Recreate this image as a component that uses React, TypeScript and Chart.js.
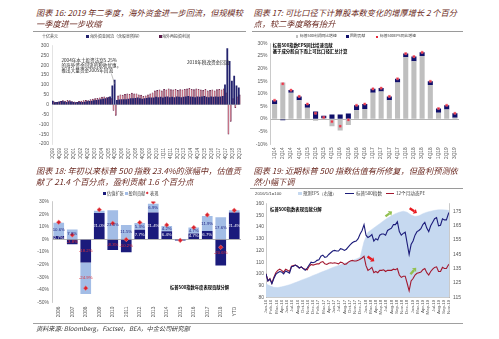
import React, { useEffect, useRef } from "react";
import { Chart, registerables } from "chart.js";
Chart.register(...registerables);

// ---------------- Chart 16 (top-left) ----------------
const years16 = ["99", "00", "01", "02", "03", "04", "05", "06", "07", "08", "09", "10", "11", "12", "13", "14", "15", "16", "17", "18", "19"];
const quarters16: string[] = [];
years16.forEach((y) => ["1", "2", "3", "4"].forEach((q) => quarters16.push(q + "Q" + y)));
quarters16.splice(82);
const repat16 = [
  18, 10, 12, 14, 16, 14, 12, 15, 14, 12, 10, 12, 12, 11, 13, 15, 16, 18, 20, 22, 24, 26, 28, 30,
  35, 40, 95, 125, 22, 24, 26, 25, 25, 28, 30, 30, 32, 35, 30, 28, 30, 32, 35, 35, 35, 38, 36, 38,
  35, 38, 40, 36, 38, 36, 40, 38, 36, 38, 40, 42, 40, 38, 36, 40, 38, 40, 42, 38, 36, 40, 38, 40,
  38, 40, 42, 100, 285, 220, 120, 145, 95, 85,
];
const reinv16 = [
  15, 12, 14, 16, 20, 18, 22, 20, 15, 14, 12, 16, 18, 20, 22, 20, 25, 28, 30, 32, 35, 38, 40, 36,
  38, 30, -30, -55, 45, 50, 48, 52, 55, 52, 58, 55, 55, 50, 48, 42, 45, 50, 55, 60, 70, 72, 75, 70,
  78, 75, 80, 76, 75, 78, 72, 76, 75, 78, 80, 82, 78, 76, 80, 78, 75, 72, 78, 70, 72, 75, 70, 76,
  78, 75, 80, 60, -150, -85, 30, -15, 40, 50,
];
const labelEvery16 = 3;
const leader16 = { i0: 25.3, v0: 158, i1: 26.8, v1: 104 };

// ---------------- Chart 17 (top-right) ----------------
const cats17 = ["1Q14", "2Q14", "3Q14", "4Q14", "1Q15", "2Q15", "3Q15", "4Q15", "1Q16", "2Q16", "3Q16", "4Q16", "1Q17", "2Q17", "3Q17", "4Q17", "1Q18", "2Q18", "3Q18", "4Q18", "1Q19", "2Q19", "3Q19"];
const earn17 = [6, 14.5, 10.5, 7.5, 4.5, -0.7, 0.3, -2.8, -4.5, -2.3, 3.5, 4, 10.5, 11, 7.5, 14.5, 24.5, 23, 25, 13.5, 2.5, 3.8, 0.5];
const buyback17 = [1.5, -0.5, 1, 1.5, 1.5, 3, 1, 1.8, 1.8, 2.2, 2, 2, 1.5, 1.3, 1.5, 1.5, 1.5, 1.8, 1.5, 1.5, 1.7, 1.7, 1.8];
const eps17 = [7.5, 14, 11.5, 9, 6, 2.3, 0.7, -1, -2.8, -0.3, 5.5, 6, 12, 12.3, 9, 16, 26, 24.8, 26.5, 15, 4.2, 5.5, 2.3];

// ---------------- Chart 18 (bottom-left) ----------------
const cats18 = ["2006", "2007", "2008", "2009", "2010", "2011", "2012", "2013", "2014", "2015", "2016", "2017", "2018", "YTD"];
const val18 = [2.7, -3.8, -18.2, 21.0, -8.3, -10.2, 7.7, 21.4, 6.4, -0.8, 4.7, 6.7, -20.6, 21.4];
const earnC18 = [10.6, 7.8, -24.9, 1.6, 23.0, 11.5, 5.3, 6.9, 4.2, 0.1, 4.7, 11.9, 17.6, 1.6];
const perf18 = [13.6, 3.5, -38.5, 23.5, 12.8, 0.0, 13.4, 29.6, 11.4, -0.7, 9.5, 19.4, -6.2, 23.0];

// ---------------- Chart 19 (bottom-right) ----------------
const stepDays19 = 15; // S&P and PE sampled every 15 days from 2016-01-01
const spx19 = [
  100, 94, 95.5, 91.5, 96, 99.5, 101, 102, 101.5, 100,
  102.5, 101.5, 100.5, 106, 106.5, 107.5, 106.5, 105, 106, 104.5,
  103, 105, 107.5, 110, 109.5, 110, 111.5, 112, 115, 116,
  114, 114.5, 116.5, 118, 119.5, 120, 119.5, 119.5, 121.5, 121,
  120, 121, 123, 125, 126.5, 127.5, 128, 130, 134, 137,
  142, 133, 131, 132, 133.5, 128, 130, 129, 133, 134,
  134, 133, 137, 138, 139, 142, 142, 144.5, 136, 133,
  134.5, 135.5, 126, 116.5, 125, 128, 133, 136, 137, 138.5,
  142, 144, 139, 136, 141, 144, 147, 148, 141, 141.5,
  147, 146, 146, 151, 154,
];
const pe19 = [
  100, 94, 96, 92, 97, 101, 103, 104, 103, 101.5,
  104, 103, 102, 106.5, 107, 107.5, 106.5, 105, 106, 104.5,
  104, 103.5, 106.5, 108, 107.5, 108, 108.5, 108.5, 110, 110.5,
  108.5, 108, 109, 109.5, 109, 109.5, 109, 108.5, 110, 109.5,
  108, 108.5, 110, 111, 111.5, 111, 111, 111.5, 112.5, 113.5,
  115, 107, 103, 104, 105.5, 101, 102, 101, 103, 103,
  103.5, 102, 103, 103, 103, 104, 103.5, 104.5, 99, 97,
  98, 98, 92, 85.5, 94, 96, 99, 100.5, 101, 101.5,
  103.5, 104.5, 101, 99, 102, 104, 105.5, 106, 102, 102,
  105.5, 104.5, 104.5, 107.5, 109,
];
const epsStepDays19 = 30; // forward EPS sampled every 30 days
const eps19 = [
  124.4, 123, 122, 121.8, 122.3, 123, 123.8, 124.8, 125.8, 127,
  128, 129, 130.3, 131.3, 132.5, 133.5, 134.6, 135.8, 136.8, 137.8,
  138.8, 139.8, 140.8, 141.8, 143, 154, 160.5, 162.5, 164.5, 166.5,
  168.5, 170.5, 172, 173.5, 174.5, 175.2, 174.5, 172.5, 171.5, 172,
  173.5, 174.5, 175.2, 175.8, 176.2, 176.2, 176, 175.5,
];
const xLabels19 = [
  "Jan-16", "Feb-16", "Mar-16", "Apr-16", "Jun-16", "Jul-16", "Aug-16", "Oct-16", "Nov-16", "Dec-16",
  "Feb-17", "Mar-17", "Apr-17", "Jun-17", "Jul-17", "Aug-17", "Oct-17", "Nov-17", "Dec-17",
  "Jan-18", "Mar-18", "Apr-18", "May-18", "Jul-18", "Aug-18", "Sep-18", "Nov-18", "Dec-18",
  "Jan-19", "Mar-19", "Apr-19", "May-19", "Jul-19", "Aug-19", "Sep-19", "Nov-19",
];
const xLabelGapDays19 = 40;
const leftTicks19 = [80, 90, 100, 110, 120, 130, 140, 150, 160];
const rightTicks19 = [115, 125, 135, 145, 155, 165, 175];
const arrows19 = [
  { d0: 914, v0: 149, d1: 965, v1: 153.2, c: "#92c050" },
  { d0: 1099, v0: 155.9, d1: 1155, v1: 151.8, c: "#e8191f" },
  { d0: 777, v0: 114.8, d1: 829, v1: 110.7, c: "#e8191f" },
  { d0: 1105, v0: 99.7, d1: 1149, v1: 105.2, c: "#92c050" },
];

// ---------------- styling ----------------
const FONT = '"Liberation Sans", Arial, sans-serif';
const CJK = '"Noto Sans CJK SC", "Noto Sans", sans-serif';
const TICK = "#595959";
const TITLE = "#6b2a22";
const NAVY = "#1b1b7c";
const tickFont = (s: number) => ({ family: FONT, size: s, lineHeight: 1 });
const baseOpts = { animation: false, responsive: false, devicePixelRatio: 1, plugins: { legend: { display: false }, tooltip: { enabled: false } } };
const zeroGrid = { drawTicks: false, lineWidth: 0.8, color: (c: any) => (c.tick && c.tick.value === 0 ? "#a0a0a0" : "rgba(0,0,0,0)") };

const leaderPlugin16 = {
  id: "leader16",
  afterDatasetsDraw(chart: any) {
    const { ctx, scales } = chart;
    ctx.save();
    ctx.strokeStyle = "#7f7f7f";
    ctx.lineWidth = 0.5;
    ctx.beginPath();
    ctx.moveTo(scales.x.getPixelForValue(leader16.i0), scales.y.getPixelForValue(leader16.v0));
    ctx.lineTo(scales.x.getPixelForValue(leader16.i1), scales.y.getPixelForValue(leader16.v1));
    ctx.stroke();
    ctx.restore();
  },
};

const labelPlugin18 = {
  id: "labels18",
  afterDatasetsDraw(chart: any) {
    const ctx = chart.ctx;
    ctx.save();
    ctx.font = '4.3px "Liberation Sans"';
    ctx.textAlign = "center";
    ctx.textBaseline = "middle";
    [0, 1].forEach((di) => {
      const meta = chart.getDatasetMeta(di);
      meta.data.forEach((bar: any, i: number) => {
        const v = chart.data.datasets[di].data[i] as number;
        if (Math.abs(v) < 2.5) return;
        const p = bar.getProps(["x", "y", "base"], true);
        ctx.fillStyle = v < 0 ? "#e0303a" : di === 0 ? "#ffffff" : NAVY;
        ctx.fillText(v.toFixed(1) + "%", p.x, (p.y + p.base) / 2);
      });
    });
    ctx.restore();
  },
};

const arrowPlugin19 = {
  id: "arrows19",
  afterDatasetsDraw(chart: any) {
    const { ctx, scales } = chart;
    arrows19.forEach((a) => {
      const x0 = scales.x.getPixelForValue(a.d0), y0 = scales.y.getPixelForValue(a.v0);
      const x1 = scales.x.getPixelForValue(a.d1), y1 = scales.y.getPixelForValue(a.v1);
      const ang = Math.atan2(y1 - y0, x1 - x0);
      const head = 3.2, hw = 2.8;
      const bx = x1 - head * Math.cos(ang), by = y1 - head * Math.sin(ang);
      ctx.save();
      ctx.strokeStyle = a.c;
      ctx.fillStyle = a.c;
      ctx.lineWidth = 2.4;
      ctx.beginPath();
      ctx.moveTo(x0, y0);
      ctx.lineTo(bx, by);
      ctx.stroke();
      ctx.beginPath();
      ctx.moveTo(x1, y1);
      ctx.lineTo(bx + hw * Math.sin(ang), by - hw * Math.cos(ang));
      ctx.lineTo(bx - hw * Math.sin(ang), by + hw * Math.cos(ang));
      ctx.closePath();
      ctx.fill();
      ctx.restore();
    });
  },
};

const config16 = () => ({
  type: "bar",
  data: {
    labels: quarters16,
    datasets: [
      { label: "海外资金回流", data: repat16, backgroundColor: "#23236e", borderWidth: 0, categoryPercentage: 1, barPercentage: 1 },
      { label: "海外再投资利润", data: reinv16, backgroundColor: "#cf6f80", borderColor: "#4e1440", borderWidth: 0.5, categoryPercentage: 1, barPercentage: 1 },
    ],
  },
  options: {
    ...baseOpts,
    layout: { padding: { top: 4.3, right: 7, left: 0, bottom: 0 } },
    scales: {
      x: {
        grid: { display: false, drawTicks: false },
        border: { display: false },
        ticks: { autoSkip: false, minRotation: 90, maxRotation: 90, padding: 4, color: TICK, font: tickFont(4.6), callback: (_v: any, i: number) => (i % labelEvery16 === 0 ? quarters16[i] : "") },
        afterFit: (s: any) => { s.height = 21; },
      },
      y: {
        min: -200, max: 300,
        ticks: { stepSize: 50, padding: 3, color: TICK, font: tickFont(5) },
        grid: zeroGrid,
        border: { display: true, color: "#d0d0d0", width: 0.6 },
        afterFit: (s: any) => { s.width = 16; },
      },
    },
  },
  plugins: [leaderPlugin16],
});

const config17 = () => ({
  type: "bar",
  data: {
    labels: cats17,
    datasets: [
      { label: "标普500利润同比增速", data: earn17, backgroundColor: "#bfbfbf", stack: "s", categoryPercentage: 1, barPercentage: 0.62 },
      { label: "回购贡献", data: buyback17, backgroundColor: "#10106b", stack: "s", categoryPercentage: 1, barPercentage: 0.62 },
      { type: "line", label: "标普500EPS同比增速", data: eps17, showLine: false, stack: "e", order: -1, pointStyle: "rect", pointRadius: 1.5, pointBackgroundColor: "#e8283a", pointBorderColor: "#f07080", pointBorderWidth: 0.5 },
    ],
  },
  options: {
    ...baseOpts,
    layout: { padding: { top: 3.3, right: 6, left: 0, bottom: 0 } },
    scales: {
      x: {
        stacked: true,
        grid: { display: false, drawTicks: false },
        border: { display: false },
        ticks: { autoSkip: false, minRotation: 90, maxRotation: 90, padding: 3, color: TICK, font: tickFont(4.8) },
        afterFit: (s: any) => { s.height = 20.7; },
      },
      y: {
        stacked: true, min: -10, max: 30,
        ticks: { stepSize: 5, padding: 3, color: TICK, font: tickFont(5), callback: (v: any) => v + "%" },
        grid: zeroGrid,
        border: { display: true, color: "#a6a6a6", width: 0.6 },
        afterFit: (s: any) => { s.width = 17.5; },
      },
    },
  },
});

const config18 = () => ({
  type: "bar",
  data: {
    labels: cats18,
    datasets: [
      { label: "估值扩张", data: val18, backgroundColor: NAVY, stack: "s", categoryPercentage: 1, barPercentage: 0.79 },
      { label: "盈利贡献", data: earnC18, backgroundColor: "#a3bde6", stack: "s", categoryPercentage: 1, barPercentage: 0.79 },
      { type: "line", label: "表现", data: perf18, showLine: false, stack: "p", order: -1, pointStyle: "rectRot", pointRadius: 2.3, pointBackgroundColor: "#d9232e", pointBorderColor: "#f08080", pointBorderWidth: 0.6 },
    ],
  },
  options: {
    ...baseOpts,
    layout: { padding: { top: 2.3, right: 7, left: 0, bottom: 0 } },
    scales: {
      x: {
        stacked: true,
        grid: { display: false, drawTicks: false },
        border: { display: false },
        ticks: { autoSkip: false, minRotation: 90, maxRotation: 90, padding: 4, color: TICK, font: tickFont(4.8) },
        afterFit: (s: any) => { s.height = 17.3; },
      },
      y: {
        stacked: true, min: -50, max: 30,
        ticks: { stepSize: 10, padding: 3, color: TICK, font: tickFont(5), callback: (v: any) => v + "%" },
        grid: zeroGrid,
        border: { display: true, color: "#a6a6a6", width: 0.6 },
        afterFit: (s: any) => { s.width = 16; },
      },
    },
  },
  plugins: [labelPlugin18],
});

const config19 = () => ({
  type: "line",
  data: {
    datasets: [
      { label: "标普500指数", data: spx19.map((v, i) => ({ x: i * stepDays19, y: v })), yAxisID: "y", borderColor: "#1c1c7a", borderWidth: 1.1, pointRadius: 0, order: 0 },
      { label: "12个月动态PE", data: pe19.map((v, i) => ({ x: i * stepDays19, y: v })), yAxisID: "y", borderColor: "#a3182f", borderWidth: 1.1, pointRadius: 0, order: 1 },
      { label: "预测EPS（右轴）", data: eps19.map((v, i) => ({ x: i * epsStepDays19, y: v })), yAxisID: "y1", fill: "start", backgroundColor: "#c6d9f0", borderColor: "#c6d9f0", borderWidth: 0.5, pointRadius: 0, order: 2 },
    ],
  },
  options: {
    ...baseOpts,
    layout: { padding: { top: 3, right: 0, left: 0, bottom: 0 } },
    scales: {
      x: {
        type: "linear", min: 0, max: 1400,
        grid: { display: false, drawTicks: false },
        border: { display: true, color: "#a6a6a6", width: 0.6 },
        afterBuildTicks: (s: any) => { s.ticks = xLabels19.map((_l, i) => ({ value: i * xLabelGapDays19 })); },
        ticks: { autoSkip: false, minRotation: 90, maxRotation: 90, padding: 2.5, color: TICK, font: tickFont(4.4), callback: (_v: any, i: number) => xLabels19[i] },
        afterFit: (s: any) => { s.height = 21.7; },
      },
      y: {
        position: "left", min: 80, max: 160,
        afterBuildTicks: (s: any) => { s.ticks = leftTicks19.map((v) => ({ value: v })); },
        ticks: { padding: 2, color: TICK, font: tickFont(5) },
        grid: { display: false, drawTicks: false },
        border: { display: true, color: "#a6a6a6", width: 0.6 },
        afterFit: (s: any) => { s.width = 13; },
      },
      y1: {
        position: "right", min: 115, max: 180.6,
        afterBuildTicks: (s: any) => { s.ticks = rightTicks19.map((v) => ({ value: v })); },
        ticks: { padding: 4, color: TICK, font: tickFont(5) },
        grid: { display: false, drawTicks: false },
        border: { display: true, color: "#a6a6a6", width: 0.6 },
        afterFit: (s: any) => { s.width = 16; },
      },
    },
  },
  plugins: [arrowPlugin19],
});

function ChartBox({ left, top, width, height, make }: any) {
  const ref = useRef<HTMLCanvasElement>(null);
  useEffect(() => {
    const chart = new Chart(ref.current as HTMLCanvasElement, make() as any);
    return () => chart.destroy();
  }, []);
  return <canvas ref={ref} width={width} height={height} style={{ position: "absolute", left, top, width, height }} />;
}

function T({ x, y, s, c = "#404040", it = false, b = false, f = CJK, children }: any) {
  return (
    <div style={{ position: "absolute", left: x, top: y - s * 0.6, fontSize: s, lineHeight: `${s * 1.2}px`, color: c, fontStyle: it ? "italic" : "normal", fontWeight: b ? 700 : 400, whiteSpace: "nowrap", fontFamily: f }}>
      {children}
    </div>
  );
}

function Box({ x, y, w, h, c, rot = false }: any) {
  return <div style={{ position: "absolute", left: x, top: y, width: w, height: h, background: c, transform: rot ? "rotate(45deg)" : undefined }} />;
}

function HLine({ x0, x1, y, c = "#9a9a9a", w = 0.8 }: any) {
  return <div style={{ position: "absolute", left: x0, top: y, width: x1 - x0, height: 0, borderTop: `${w}px solid ${c}` }} />;
}

export default function App() {
  const ts = 8.2;
  return (
    <div style={{ position: "absolute", left: 0, top: 0, width: 499, height: 339, background: "#ffffff", overflow: "hidden" }}>
      <ChartBox left={36} top={40} width={212} height={125} make={config16} />
      <ChartBox left={253} top={38} width={212} height={127} make={config17} />
      <ChartBox left={36} top={196} width={212} height={124} make={config18} />
      <ChartBox left={253} top={197} width={212} height={122} make={config19} />

      {/* Top-left */}
      <T x={36} y={12.7} s={ts} c={TITLE} it>图表 16: 2019 年二季度，海外资金进一步回流，但规模较</T>
      <T x={36} y={24} s={ts} c={TITLE} it>一季度进一步收缩</T>
      <HLine x0={33} x1={246} y={30.5} />
      <T x={42} y={36.5} s={4} c="#404040">十亿美元</T>
      <Box x={86} y={35} w={3} h={3} c="#23236e" />
      <T x={90} y={36.5} s={4}>海外资金回流（含股息所得）</T>
      <Box x={158.5} y={35} w={3} h={3} c="#5c1a4a" />
      <T x={162} y={36.5} s={4}>海外再投资利润</T>
      <T x={61.5} y={60.3} s={4.6} c="#262626">2004年本土投资法案5.25%</T>
      <T x={61.5} y={65.7} s={4.6} c="#262626">的海外资金回流的税收优惠，</T>
      <T x={61.5} y={71} s={4.6} c="#262626">推出大量资金2005年回流</T>
      <T x={187} y={63} s={4.6} c="#262626">2018年税改资金回流</T>

      {/* Top-right */}
      <T x={253.5} y={12.7} s={ts} c={TITLE} it>图表 17: 可比口径下计算股本数变化的增厚增长 2 个百分</T>
      <T x={253.5} y={24} s={ts} c={TITLE} it>点，较二季度略有抬升</T>
      <HLine x0={252} x1={463} y={30.5} />
      <Box x={295.5} y={35.3} w={2.5} h={2.5} c="#bfbfbf" />
      <T x={300} y={36.7} s={3.8}>标普500利润同比增速</T>
      <Box x={345.5} y={35} w={3} h={3} c="#10106b" />
      <T x={350} y={36.7} s={3.8}>回购贡献</T>
      <Box x={375.5} y={35.5} w={2.2} h={2.2} c="#e8283a" />
      <T x={380} y={36.7} s={3.8}>标普500EPS同比增速</T>
      <T x={272.7} y={45.7} s={4.4} b c="#000000">标普500指数EPS同比增速贡献</T>
      <T x={272.7} y={52} s={4.4} b c="#000000">基于成分股自下而上可比口径汇总计算</T>

      {/* Bottom-left */}
      <T x={36} y={171} s={ts} c={TITLE} it>图表 18: 年初以来标普 500 指数 23.4%的涨幅中，估值贡</T>
      <T x={36} y={182.3} s={ts} c={TITLE} it>献了 21.4 个百分点，盈利贡献 1.6 个百分点</T>
      <Box x={103} y={191.8} w={3} h={3} c={NAVY} />
      <T x={107} y={193.3} s={4.2}>估值扩张</T>
      <Box x={124.5} y={191.8} w={3} h={3} c="#a3bde6" />
      <T x={128.5} y={193.3} s={4.2}>盈利贡献</T>
      <Box x={146} y={192} w={2.4} h={2.4} c="#d9232e" rot />
      <T x={150} y={193.3} s={4.2}>表现</T>
      <T x={170} y={287.7} s={4.3} b c="#000000">标普500指数年度表现贡献分解</T>
      <HLine x0={33} x1={463} y={322.5} c="#a0a0a0" />
      <T x={36} y={328.5} s={6.2} it c="#333333">资料来源: Bloomberg，Factset，BEA，中金公司研究部</T>

      {/* Bottom-right */}
      <T x={253.5} y={171.3} s={ts} c={TITLE} it>图表 19: 近期标普 500 指数估值有所修复，但盈利预测依</T>
      <T x={253.5} y={182} s={ts} c={TITLE} it>然小幅下调</T>
      <HLine x0={250} x1={463} y={187.5} />
      <T x={255} y={193.5} s={4.3} f={FONT}>2016/1/1=100</T>
      <Box x={298} y={192} w={4} h={3} c="#c6d9f0" />
      <T x={303} y={193.5} s={4.3}>预测EPS（右轴）</T>
      <Box x={345} y={192.9} w={9} h={1.2} c="#1c1c7a" />
      <T x={356} y={193.5} s={4.6}>标普500指数</T>
      <Box x={385.5} y={192.9} w={8} h={1.2} c="#a3182f" />
      <T x={396} y={193.5} s={4.6}>12个月动态PE</T>
      <T x={270} y={210} s={4.4} b c="#000000">标普500指数表现贡献分解</T>
    </div>
  );
}
